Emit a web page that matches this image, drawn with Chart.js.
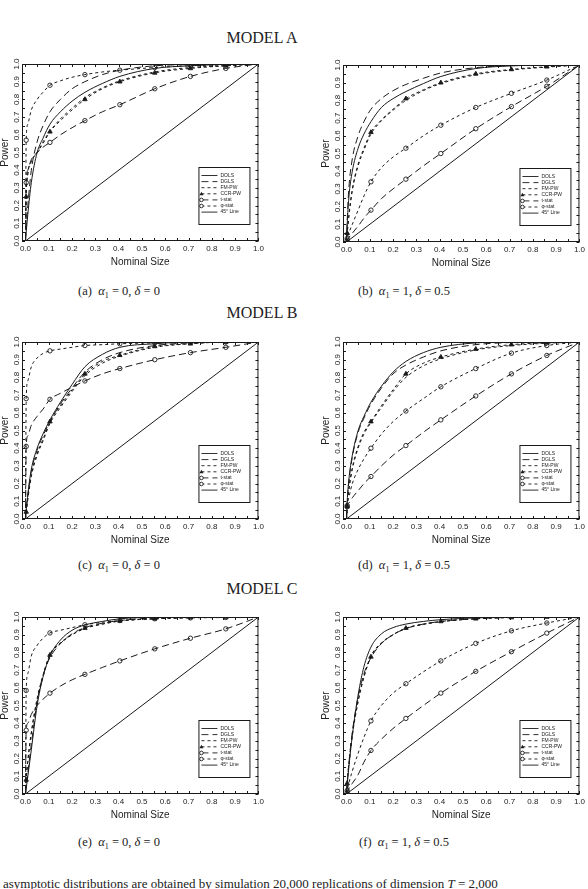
<!DOCTYPE html>
<html>
<head>
<meta charset="utf-8">
<script src="https://cdn.jsdelivr.net/npm/chart.js@4.4.0/dist/chart.umd.min.js"></script>
<style>
  body { margin: 0; width: 588px; height: 889px; position: relative; overflow: hidden; background: #fff;
         font-family: "Liberation Serif", "DejaVu Serif", serif; color: #222; }
  .model { position: absolute; left: 0; width: 524px; text-align: center; font-size: 16px; }
  .cap { position: absolute; font-size: 12.5px; white-space: nowrap; transform: translate(-50%, -50%); }
  .cap i { font-style: italic; }
  canvas { position: absolute; }
  .foot { position: absolute; left: -6px; top: 876px; font-size: 13px; white-space: nowrap; }
</style>
</head>
<body>
<div class="model" style="top:29px">MODEL A</div>
<div class="model" style="top:304px">MODEL B</div>
<div class="model" style="top:580px">MODEL C</div>

<canvas id="pa" width="294" height="215" style="left:-27px;top:55px"></canvas>
<canvas id="pb" width="294" height="215" style="left:294px;top:56px"></canvas>
<canvas id="pc" width="294" height="215" style="left:-27px;top:333px"></canvas>
<canvas id="pd" width="294" height="215" style="left:294px;top:333px"></canvas>
<canvas id="pe" width="294" height="215" style="left:-27px;top:608px"></canvas>
<canvas id="pf" width="294" height="215" style="left:294px;top:608px"></canvas>

<div class="cap" style="left:119px;top:292px">(a)&nbsp; <i>α</i><sub style="font-size:8px">1</sub> = 0, <i>δ</i> = 0</div>
<div class="cap" style="left:404px;top:292px">(b)&nbsp; <i>α</i><sub style="font-size:8px">1</sub> = 1, <i>δ</i> = 0.5</div>
<div class="cap" style="left:119px;top:566px">(c)&nbsp; <i>α</i><sub style="font-size:8px">1</sub> = 0, <i>δ</i> = 0</div>
<div class="cap" style="left:404px;top:566px">(d)&nbsp; <i>α</i><sub style="font-size:8px">1</sub> = 1, <i>δ</i> = 0.5</div>
<div class="cap" style="left:119px;top:843px">(e)&nbsp; <i>α</i><sub style="font-size:8px">1</sub> = 0, <i>δ</i> = 0</div>
<div class="cap" style="left:404px;top:843px">(f)&nbsp; <i>α</i><sub style="font-size:8px">1</sub> = 1, <i>δ</i> = 0.5</div>

<div class="foot">e asymptotic distributions are obtained by simulation 20,000 replications of dimension <i>T</i> = 2,000</div>

<script>
// nominal size grid shared by all curves
const sizes = [0, 0.003, 0.01, 0.025, 0.05, 0.075, 0.105, 0.15, 0.2, 0.255, 0.33, 0.405, 0.555, 0.708, 0.86, 1.0];
// sizes where the curves carry their symbols
const markedSizes = [0.003, 0.105, 0.255, 0.405, 0.555, 0.708, 0.86];
const axisTicks = [0, 0.1, 0.2, 0.3, 0.4, 0.5, 0.6, 0.7, 0.8, 0.9, 1.0];
const lineX = [0, 1];
const lineY = [0, 1];

// Model A, alpha1 = 0, delta = 0
const dolsA  = [0, 0.05, 0.15, 0.33, 0.50, 0.58, 0.66, 0.73, 0.79, 0.84, 0.89, 0.93, 0.975, 0.99, 0.998, 1];
const dglsA  = [0, 0.08, 0.20, 0.40, 0.56, 0.65, 0.73, 0.80, 0.86, 0.90, 0.94, 0.965, 0.99, 0.997, 1, 1];
const fmpwA  = [0, 0.25, 0.38, 0.45, 0.50, 0.56, 0.62, 0.69, 0.75, 0.81, 0.865, 0.905, 0.955, 0.98, 0.99, 1];
const ccrpwA = [0, 0.25, 0.38, 0.45, 0.50, 0.55, 0.617, 0.68, 0.74, 0.80, 0.86, 0.90, 0.95, 0.975, 0.99, 1];
const tstatA = [0, 0.33, 0.40, 0.46, 0.50, 0.53, 0.557, 0.60, 0.64, 0.68, 0.73, 0.77, 0.86, 0.93, 0.975, 1];
const phiA   = [0, 0.57, 0.66, 0.74, 0.80, 0.84, 0.88, 0.905, 0.925, 0.94, 0.955, 0.965, 0.98, 0.99, 0.995, 1];

// Model A, alpha1 = 1, delta = 0.5
const dolsB  = [0, 0.10, 0.25, 0.40, 0.53, 0.61, 0.68, 0.76, 0.81, 0.85, 0.895, 0.935, 0.98, 0.995, 1, 1];
const dglsB  = [0, 0.12, 0.30, 0.47, 0.60, 0.68, 0.75, 0.81, 0.855, 0.89, 0.925, 0.955, 0.985, 0.997, 1, 1];
const fmpwB  = [0, 0.05, 0.14, 0.29, 0.43, 0.52, 0.61, 0.685, 0.745, 0.80, 0.855, 0.895, 0.945, 0.972, 0.988, 1];
const ccrpwB = [0, 0.05, 0.15, 0.30, 0.44, 0.53, 0.62, 0.69, 0.75, 0.81, 0.86, 0.90, 0.95, 0.975, 0.99, 1];
const tstatB = [0, 0.01, 0.025, 0.05, 0.09, 0.135, 0.18, 0.245, 0.30, 0.355, 0.43, 0.50, 0.64, 0.765, 0.88, 1];
const phiB   = [0, 0.02, 0.05, 0.10, 0.18, 0.26, 0.34, 0.42, 0.48, 0.53, 0.60, 0.66, 0.76, 0.84, 0.915, 1];

// Model B, alpha1 = 0, delta = 0
const dolsC  = [0, 0.05, 0.14, 0.28, 0.40, 0.48, 0.56, 0.66, 0.76, 0.86, 0.93, 0.97, 0.99, 1, 1, 1];
const dglsC  = [0, 0.05, 0.13, 0.27, 0.39, 0.47, 0.55, 0.65, 0.74, 0.83, 0.90, 0.94, 0.98, 0.995, 1, 1];
const fmpwC  = [0, 0.04, 0.11, 0.24, 0.36, 0.44, 0.54, 0.63, 0.72, 0.81, 0.88, 0.92, 0.97, 0.99, 1, 1];
const ccrpwC = [0, 0.04, 0.12, 0.25, 0.37, 0.45, 0.55, 0.64, 0.73, 0.82, 0.89, 0.925, 0.975, 0.99, 1, 1];
const tstatC = [0, 0.41, 0.47, 0.53, 0.58, 0.62, 0.676, 0.71, 0.745, 0.78, 0.82, 0.85, 0.90, 0.94, 0.97, 1];
const phiC   = [0, 0.68, 0.78, 0.86, 0.91, 0.935, 0.95, 0.96, 0.97, 0.98, 0.985, 0.99, 0.995, 1, 1, 1];

// Model B, alpha1 = 1, delta = 0.5
const dolsD  = [0, 0.10, 0.22, 0.36, 0.50, 0.58, 0.66, 0.75, 0.83, 0.89, 0.94, 0.97, 0.995, 1, 1, 1];
const dglsD  = [0, 0.10, 0.21, 0.35, 0.49, 0.57, 0.65, 0.74, 0.82, 0.87, 0.915, 0.95, 0.985, 0.997, 1, 1];
const fmpwD  = [0, 0.07, 0.16, 0.28, 0.40, 0.48, 0.545, 0.63, 0.72, 0.80, 0.865, 0.905, 0.955, 0.98, 0.993, 1];
const ccrpwD = [0, 0.07, 0.17, 0.29, 0.41, 0.49, 0.55, 0.64, 0.73, 0.82, 0.88, 0.915, 0.96, 0.985, 0.995, 1];
const tstatD = [0, 0.07, 0.09, 0.12, 0.16, 0.20, 0.24, 0.30, 0.36, 0.415, 0.49, 0.56, 0.695, 0.82, 0.924, 1];
const phiD   = [0, 0.076, 0.12, 0.20, 0.28, 0.34, 0.40, 0.48, 0.55, 0.61, 0.68, 0.747, 0.85, 0.937, 0.98, 1];

// Model C, alpha1 = 0, delta = 0
const dolsE  = [0, 0.03, 0.10, 0.25, 0.50, 0.66, 0.78, 0.87, 0.925, 0.955, 0.975, 0.99, 0.998, 1, 1, 1];
const dglsE  = [0, 0.04, 0.12, 0.28, 0.52, 0.67, 0.77, 0.85, 0.905, 0.94, 0.965, 0.98, 0.995, 1, 1, 1];
const fmpwE  = [0, 0.08, 0.19, 0.35, 0.54, 0.67, 0.79, 0.855, 0.90, 0.935, 0.96, 0.977, 0.99, 0.997, 1, 1];
const ccrpwE = [0, 0.08, 0.18, 0.34, 0.53, 0.66, 0.785, 0.85, 0.90, 0.937, 0.96, 0.978, 0.99, 0.997, 1, 1];
const tstatE = [0, 0.36, 0.40, 0.45, 0.50, 0.535, 0.57, 0.61, 0.645, 0.676, 0.715, 0.752, 0.82, 0.88, 0.933, 1];
const phiE   = [0, 0.585, 0.68, 0.78, 0.84, 0.88, 0.91, 0.925, 0.94, 0.956, 0.97, 0.98, 0.99, 0.995, 0.997, 1];

// Model C, alpha1 = 1, delta = 0.5
const dolsF  = [0, 0.05, 0.15, 0.33, 0.56, 0.72, 0.83, 0.905, 0.94, 0.96, 0.975, 0.985, 0.995, 1, 1, 1];
const dglsF  = [0, 0.06, 0.17, 0.35, 0.55, 0.68, 0.77, 0.85, 0.90, 0.935, 0.96, 0.975, 0.99, 0.998, 1, 1];
const fmpwF  = [0, 0.06, 0.17, 0.34, 0.53, 0.665, 0.78, 0.855, 0.90, 0.935, 0.958, 0.973, 0.99, 0.997, 1, 1];
const ccrpwF = [0, 0.06, 0.16, 0.33, 0.52, 0.66, 0.775, 0.85, 0.90, 0.937, 0.96, 0.975, 0.99, 0.997, 1, 1];
const tstatF = [0, 0.01, 0.03, 0.06, 0.11, 0.18, 0.246, 0.31, 0.37, 0.427, 0.50, 0.57, 0.693, 0.804, 0.909, 1];
const phiF   = [0, 0.02, 0.06, 0.13, 0.23, 0.32, 0.413, 0.50, 0.57, 0.623, 0.69, 0.752, 0.851, 0.922, 0.966, 1];

const INK = "#1a1a1a";
const LONG = [7, 4];
const SHORT = [3, 3];

function curve(values) {
  return sizes.map((s, i) => ({ x: s, y: values[i] }));
}

function series(label, values, dash, symbol) {
  return {
    label: label,
    data: curve(values),
    borderColor: INK,
    borderWidth: 1,
    borderDash: dash,
    cubicInterpolationMode: "monotone",
    pointStyle: symbol || "circle",
    pointRadius: symbol ? (c => markedSizes.includes(sizes[c.dataIndex]) ? (symbol === "triangle" ? 2.6 : 2.2) : 0) : 0,
    pointBorderColor: INK,
    pointBorderWidth: 0.9,
    pointBackgroundColor: symbol === "triangle" ? INK : "rgba(0,0,0,0)",
    pointHoverRadius: 0
  };
}

// frame with inward ticks on all four sides, plus the boxed legend
const framePlugin = {
  id: "frameTicks",
  afterDatasetsDraw(chart) {
    const { ctx, chartArea: a, scales } = chart;
    ctx.save();
    ctx.strokeStyle = INK;
    ctx.lineWidth = 1;
    ctx.setLineDash([]);
    ctx.strokeRect(a.left + 0.5, a.top + 0.5, a.right - a.left - 1, a.bottom - a.top - 1);
    ctx.beginPath();
    scales.x.ticks.forEach(t => {
      const px = Math.round(scales.x.getPixelForValue(t.value)) + 0.5;
      ctx.moveTo(px, a.bottom); ctx.lineTo(px, a.bottom - 3);
      ctx.moveTo(px, a.top); ctx.lineTo(px, a.top + 3);
    });
    scales.y.ticks.forEach(t => {
      const py = Math.round(scales.y.getPixelForValue(t.value)) + 0.5;
      ctx.moveTo(a.left, py); ctx.lineTo(a.left + 3, py);
      ctx.moveTo(a.right, py); ctx.lineTo(a.right - 3, py);
    });
    ctx.stroke();

    // legend box
    const bw = 51, bh = 57;
    const bx = a.right - 9 - bw, by = a.bottom - 17 - bh;
    ctx.fillStyle = "#fff";
    ctx.fillRect(bx, by, bw, bh);
    ctx.strokeRect(bx + 0.5, by + 0.5, bw, bh);
    ctx.font = "5px 'Liberation Sans', Arial, sans-serif";
    ctx.textBaseline = "middle";
    chart.data.datasets.forEach((ds, i) => {
      const ly = by + 8.5 + i * 6.1;
      ctx.strokeStyle = INK;
      ctx.lineWidth = 0.9;
      ctx.setLineDash(ds.borderDash || []);
      ctx.beginPath();
      ctx.moveTo(bx + 3, ly); ctx.lineTo(bx + 19, ly);
      ctx.stroke();
      ctx.setLineDash([]);
      if (ds.pointStyle === "triangle") {
        ctx.fillStyle = INK;
        ctx.beginPath();
        ctx.moveTo(bx + 3, ly - 2); ctx.lineTo(bx + 5, ly + 1.5); ctx.lineTo(bx + 1, ly + 1.5);
        ctx.closePath(); ctx.fill();
      } else if (ds.label === "t-stat" || ds.label === "φ-stat") {
        ctx.fillStyle = "#fff";
        ctx.beginPath(); ctx.arc(bx + 3, ly, 1.8, 0, Math.PI * 2); ctx.fill(); ctx.stroke();
      }
      ctx.fillStyle = INK;
      ctx.fillText(ds.label, bx + 22, ly);
    });
    ctx.restore();
  }
};

function drawPanel(id, dols, dgls, fmpw, ccrpw, tstat, phi) {
  const tickFont = { family: "'Liberation Sans', Arial, sans-serif", size: 8 };
  const titleFont = { family: "'Liberation Sans', Arial, sans-serif", size: 10, lineHeight: 1 };
  new Chart(document.getElementById(id), {
    type: "line",
    data: {
      datasets: [
        series("DOLS", dols, []),
        series("DGLS", dgls, LONG),
        series("FM-PW", fmpw, SHORT),
        series("CCR-PW", ccrpw, SHORT, "triangle"),
        series("t-stat", tstat, LONG, "circle"),
        series("φ-stat", phi, SHORT, "circle"),
        {
          label: "45° Line",
          data: lineX.map((v, i) => ({ x: v, y: lineY[i] })),
          borderColor: INK, borderWidth: 1, borderDash: [], pointRadius: 0, pointHoverRadius: 0
        }
      ]
    },
    options: {
      responsive: false,
      animation: false,
      devicePixelRatio: 1,
      layout: { padding: { left: 27, right: 7, top: 9, bottom: 3 } },
      plugins: { legend: { display: false }, tooltip: { enabled: false } },
      scales: {
        x: {
          type: "linear", min: -0.015, max: 1.0,
          afterBuildTicks: s => { s.ticks = axisTicks.flatMap((v, i) => i < axisTicks.length - 1 ? [{ value: v }, { value: (v + axisTicks[i + 1]) / 2 }] : [{ value: v }]); },
          ticks: {
            autoSkip: false, minRotation: 0, maxRotation: 0, padding: 3, color: "#222", font: tickFont,
            callback: v => axisTicks.some(t => Math.abs(t - v) < 1e-9) ? v.toFixed(1) : ""
          },
          grid: { display: false, drawTicks: false },
          border: { display: false },
          title: { display: true, text: "Nominal Size", color: "#222", font: titleFont, padding: 0 },
          afterFit: s => { s.height = 26; }
        },
        y: {
          type: "linear", min: 0, max: 1.0,
          afterBuildTicks: s => { s.ticks = axisTicks.flatMap((v, i) => i < axisTicks.length - 1 ? [{ value: v }, { value: (v + axisTicks[i + 1]) / 2 }] : [{ value: v }]); },
          ticks: {
            autoSkip: false, minRotation: 90, maxRotation: 90, crossAlign: "center", padding: 0, color: "#222", font: tickFont,
            callback: v => axisTicks.some(t => Math.abs(t - v) < 1e-9) ? v.toFixed(1) : ""
          },
          grid: { display: false, drawTicks: false },
          border: { display: false },
          title: { display: true, text: "Power", color: "#222", font: titleFont, padding: 0 },
          afterFit: s => { s.width = 22; }
        }
      }
    },
    plugins: [framePlugin]
  });
}

drawPanel("pa", dolsA, dglsA, fmpwA, ccrpwA, tstatA, phiA);
drawPanel("pb", dolsB, dglsB, fmpwB, ccrpwB, tstatB, phiB);
drawPanel("pc", dolsC, dglsC, fmpwC, ccrpwC, tstatC, phiC);
drawPanel("pd", dolsD, dglsD, fmpwD, ccrpwD, tstatD, phiD);
drawPanel("pe", dolsE, dglsE, fmpwE, ccrpwE, tstatE, phiE);
drawPanel("pf", dolsF, dglsF, fmpwF, ccrpwF, tstatF, phiF);
</script>
</body>
</html>
